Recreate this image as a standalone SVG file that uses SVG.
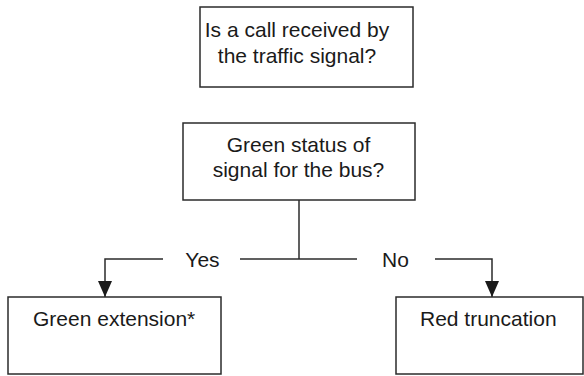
<svg xmlns="http://www.w3.org/2000/svg" width="584" height="376" viewBox="0 0 584 376">
<style>
.box{fill:#fff;stroke:#2b2b2b;stroke-width:1.5}
.ln{fill:none;stroke:#2b2b2b;stroke-width:1.5}
text{font-family:"Liberation Sans",Arial,sans-serif;font-size:21px;fill:#1a1a1a}
.c{text-anchor:middle}
</style>
<defs>
<marker id="ah" markerWidth="18" markerHeight="16" refX="16" refY="7" orient="auto" markerUnits="userSpaceOnUse">
<path d="M0,0 L16,7 L0,14 Z" fill="#1a1a1a"/>
</marker>
</defs>
<rect width="584" height="376" fill="#fff"/>
<g id="connectors">
<line class="ln" x1="299" y1="200" x2="299" y2="259"/>
<polyline class="ln" points="163,259 105,259 105,297" marker-end="url(#ah)"/>
<line class="ln" x1="240" y1="259" x2="357" y2="259"/>
<polyline class="ln" points="435,259 492,259 492,297" marker-end="url(#ah)"/>
<text x="202.5" y="267" class="c">Yes</text>
<text x="395.5" y="267" class="c">No</text>
</g>
<g id="call">
<rect class="box" x="200" y="7" width="213" height="80"/>
<text x="297" y="37" class="c">Is a call received by</text>
<text x="297" y="63" class="c">the traffic signal?</text>
</g>
<g id="green">
<rect class="box" x="183" y="123" width="232" height="77"/>
<text x="298.5" y="152" class="c">Green status of</text>
<text x="298.5" y="177" class="c">signal for the bus?</text>
</g>
<g id="ext">
<rect class="box" x="8" y="297" width="213" height="77"/>
<text x="33" y="326">Green extension*</text>
</g>
<g id="trunc">
<rect class="box" x="396" y="297" width="187" height="77"/>
<text x="420" y="326">Red truncation</text>
</g>
</svg>
